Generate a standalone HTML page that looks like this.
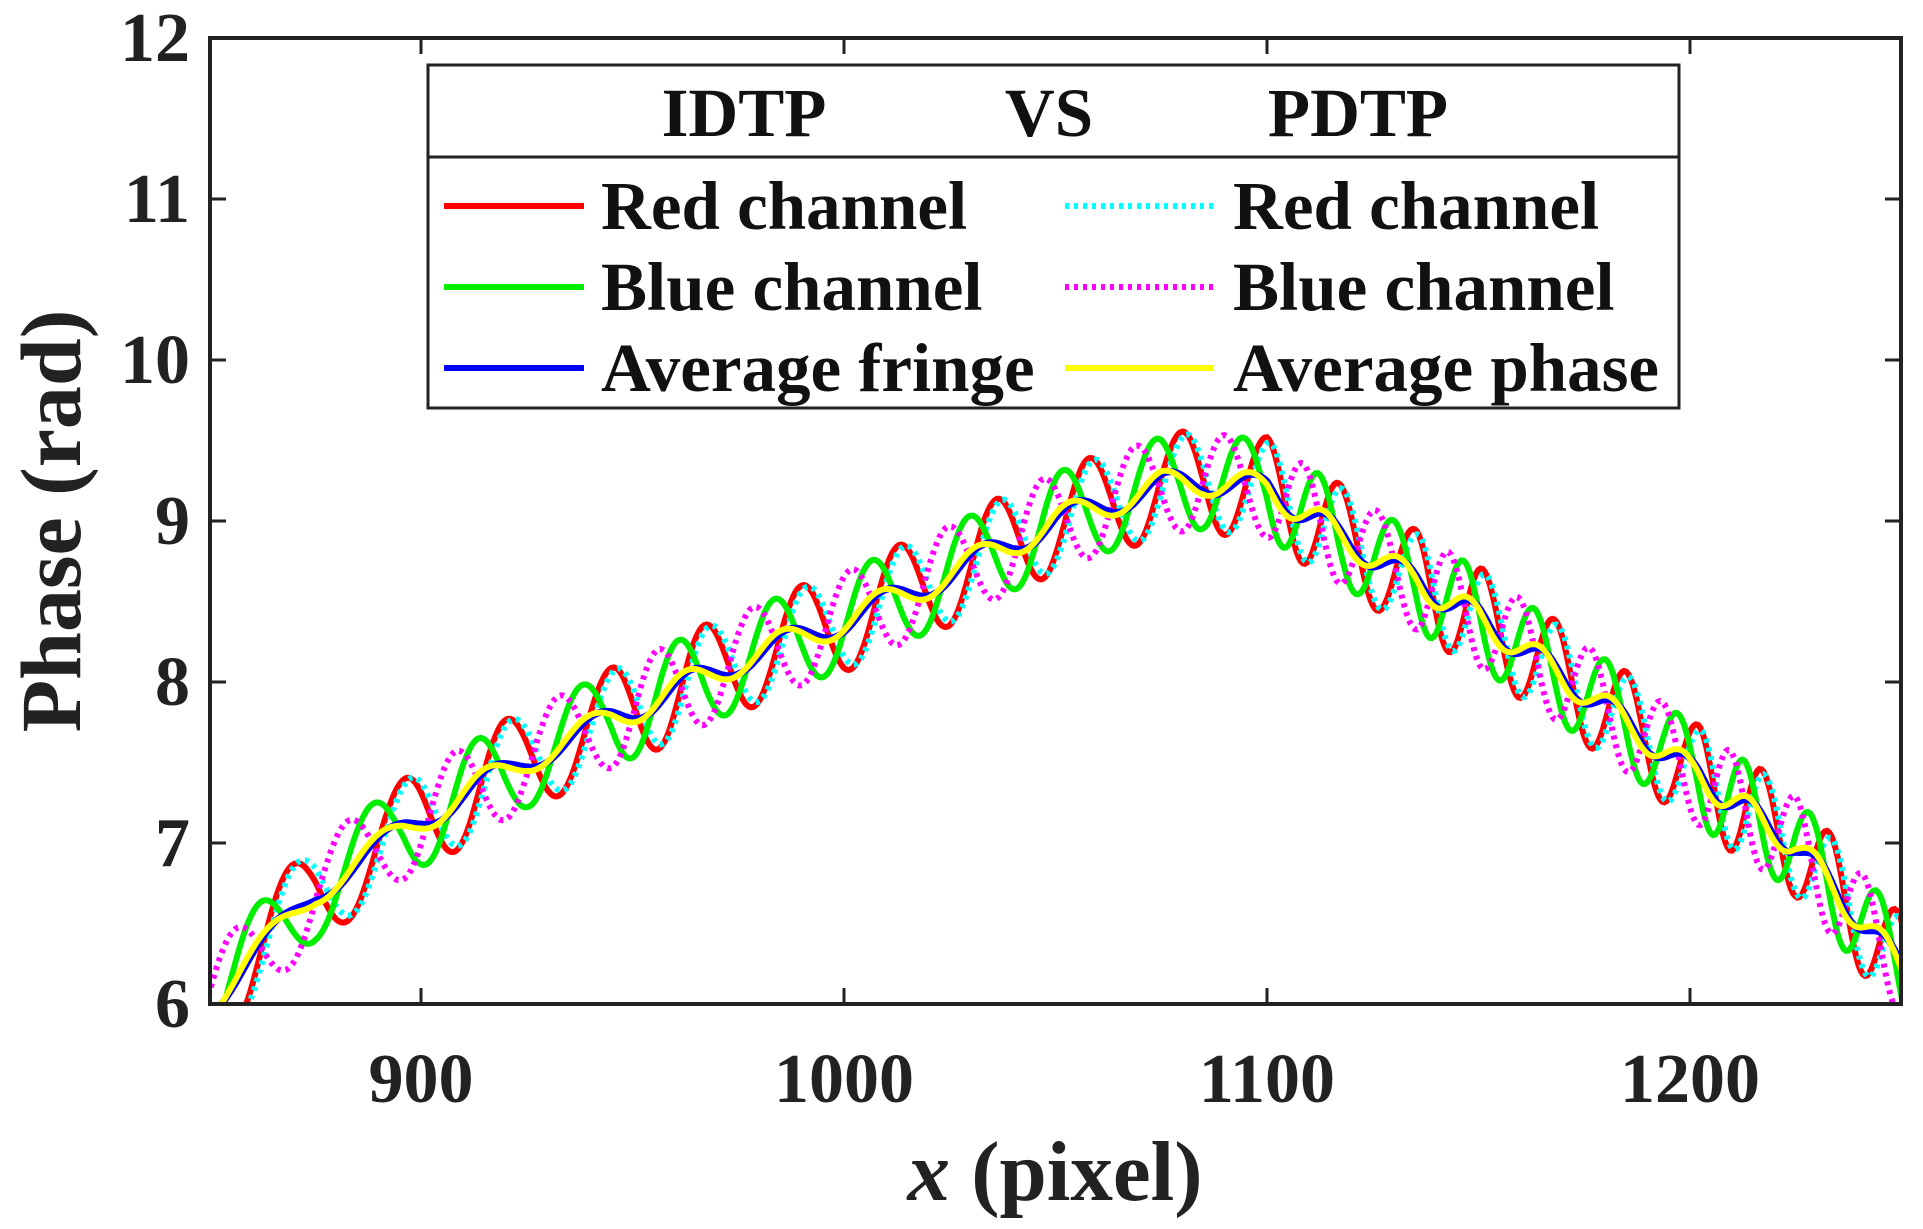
<!DOCTYPE html>
<html><head><meta charset="utf-8"><style>
html,body{margin:0;padding:0;background:#fff}
svg{display:block;font-family:"Liberation Serif",serif;font-weight:bold}
</style></head><body>
<svg id="s" width="1923" height="1229" viewBox="0 0 1923 1229" xmlns="http://www.w3.org/2000/svg">
<defs><clipPath id="c"><rect x="210" y="38" width="1691" height="966"/></clipPath></defs>
<g id="data" clip-path="url(#c)"></g>
<rect x="210" y="38" width="1691" height="966" fill="none" stroke="#222" stroke-width="4"/>
<g stroke="#222" stroke-width="3">
<line x1="421" y1="1004" x2="421" y2="988"/><line x1="844" y1="1004" x2="844" y2="988"/><line x1="1267" y1="1004" x2="1267" y2="988"/><line x1="1690" y1="1004" x2="1690" y2="988"/>
<line x1="421" y1="38" x2="421" y2="54"/><line x1="844" y1="38" x2="844" y2="54"/><line x1="1267" y1="38" x2="1267" y2="54"/><line x1="1690" y1="38" x2="1690" y2="54"/>
<line x1="210" y1="843" x2="226" y2="843"/><line x1="210" y1="682" x2="226" y2="682"/><line x1="210" y1="521" x2="226" y2="521"/><line x1="210" y1="360" x2="226" y2="360"/><line x1="210" y1="199" x2="226" y2="199"/>
<line x1="1901" y1="843" x2="1885" y2="843"/><line x1="1901" y1="682" x2="1885" y2="682"/><line x1="1901" y1="521" x2="1885" y2="521"/><line x1="1901" y1="360" x2="1885" y2="360"/><line x1="1901" y1="199" x2="1885" y2="199"/>
</g>
<g font-size="70" fill="#222" text-anchor="end">
<text x="190" y="1027">6</text><text x="190" y="866">7</text><text x="190" y="705">8</text><text x="190" y="544">9</text><text x="190" y="383">10</text><text x="190" y="222">11</text><text x="190" y="61">12</text>
</g>
<g font-size="70" fill="#222" text-anchor="middle">
<text x="421" y="1102">900</text><text x="844" y="1102">1000</text><text x="1267" y="1102">1100</text><text x="1690" y="1102">1200</text>
</g>
<text x="1055" y="1200" font-size="85" fill="#222" text-anchor="middle"><tspan font-style="italic">x</tspan> (pixel)</text>
<text transform="translate(80,521) rotate(-90)" font-size="86" fill="#222" text-anchor="middle">Phase (rad)</text>
<rect x="428" y="65" width="1251" height="343" fill="#fff" stroke="#222" stroke-width="3"/>
<line x1="428" y1="157" x2="1679" y2="157" stroke="#222" stroke-width="3"/>
<g font-size="69" fill="#111">
<text x="744" y="136" text-anchor="middle">IDTP</text><text x="1049" y="136" text-anchor="middle">VS</text><text x="1358" y="136" text-anchor="middle">PDTP</text>
<text x="601" y="229">Red channel</text><text x="601" y="310">Blue channel</text><text x="601" y="391">Average fringe</text>
<text x="1233" y="229">Red channel</text><text x="1233" y="310">Blue channel</text><text x="1233" y="391">Average phase</text>
</g>
<g stroke-width="6" fill="none">
<line x1="444" y1="206" x2="584" y2="206" stroke="#f00"/>
<line x1="444" y1="287" x2="584" y2="287" stroke="#0e0"/>
<line x1="444" y1="368" x2="584" y2="368" stroke="#00f"/>
<line x1="1065" y1="206" x2="1214" y2="206" stroke="#0ff" stroke-dasharray="4 5"/>
<line x1="1065" y1="287" x2="1214" y2="287" stroke="#f0f" stroke-dasharray="4 5"/>
<line x1="1065" y1="368" x2="1214" y2="368" stroke="#ff0"/>
</g>
</svg>
<script>
(function(){
var g=document.getElementById('data');
function X(v){return 210+(v-850)*1691/400;}
function Y(v){return 1004-(v-6)*161;}
var bx=[845,850,875,900,925,950,975,1000,1025,1050,1075,1085,1100,1125,1150,1175,1200,1225,1250,1255];
var by=[5.85,6.0,6.7,7.15,7.52,7.83,8.13,8.38,8.67,9.0,9.22,9.25,9.2,8.78,8.4,7.94,7.45,6.99,6.23,6.05];
var px=[842,869,896,920,945,967,990,1013,1036,1058,1080,1100,1117,1135,1151,1168,1185,1202,1217,1233,1249,1265];
function interp(xs,ys,x){for(var i=0;i<xs.length-1;i++){if(x<=xs[i+1]){var t=(x-xs[i])/(xs[i+1]-xs[i]);return ys[i]+t*(ys[i+1]-ys[i]);}}return ys[ys.length-1];}
var pn=px.map(function(v,i){return i;});
function base(x){return interp(bx,by,x);}
function th(x){return interp(px,pn,x);}
function mk(f,color,dash,w){
 var d='';
 for(var x=848;x<=1253;x+=0.5){var y=f(base(x),th(x));d+=(x==848?'M':'L')+X(x).toFixed(1)+' '+Y(y).toFixed(1);}
 var e=document.createElementNS('http://www.w3.org/2000/svg','path');
 e.setAttribute('d',d);e.setAttribute('stroke',color);e.setAttribute('fill','none');e.setAttribute('stroke-width',w);
 if(dash)e.setAttribute('stroke-dasharray',dash);g.appendChild(e);
}
var P=2*Math.PI;
mk(function(b,t){return b+0.32*Math.cos(P*t);},'#f00',null,6);
mk(function(b,t){return b+0.3*Math.cos(P*(t-0.05));},'#0ff','4 5',6);
mk(function(b,t){return b+0.3*Math.cos(P*(t+0.28));},'#0e0',null,6);
mk(function(b,t){return b+0.3*Math.cos(P*(t+0.5));},'#f0f','4 5',6);
mk(function(b,t){return b+0.08*Math.cos(P*(t+0.15));},'#00f',null,7);
mk(function(b,t){return b+0.09*Math.cos(P*(t+0.2));},'#ff0',null,6);
})();
</script>
</body></html>
